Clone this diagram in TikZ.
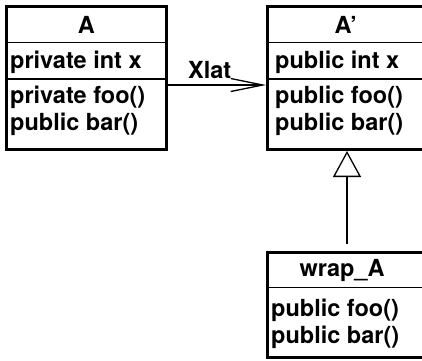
\documentclass[tikz,border=0pt]{standalone}
\usepackage{fontspec}
\setmainfont{TeX Gyre Heros}
\usetikzlibrary{arrows.meta}
\tikzset{
  classbox/.style={draw, line width=3pt, inner sep=0pt, outer sep=0pt, fill=white},
  divider/.style={line width=1.4pt},
  member/.style={anchor=base west, inner sep=0pt, font=\bfseries\fontsize{23.5}{28}\selectfont},
  title/.style={anchor=base, inner sep=0pt, font=\bfseries\fontsize{23.5}{28}\selectfont},
  xlatarrow/.style={line width=1.3pt, -{Straight Barb[length=32pt, width=13pt]}, shorten >=1.5pt},
  inherit/.style={line width=1.3pt, -{Triangle[open, length=26pt, width=28pt]}, shorten <=9pt, shorten >=1.5pt},
}
\begin{document}
\begin{tikzpicture}[x=1pt, y=-1pt]
\useasboundingbox (0,0) rectangle (422,360);
\clip (0,0) rectangle (422,360);

% class A
\node[classbox, minimum width=159.5pt, minimum height=143pt] (A) at (86.25,78) {};
\draw[divider] (A.west |- 0,42.7) -- (A.east |- 0,42.7);
\draw[divider] (A.west |- 0,79) -- (A.east |- 0,79);
\node[title] (Atitle) at (86.25,33) {A};
\node[member] (Ax) at (10,68.5) {private int x};
\node[member] (Afoo) at (10,103.5) {private foo()};
\node[member] (Abar) at (10,130.5) {public bar()};

% class A'
\node[classbox, minimum width=156.5pt, minimum height=143pt] (Ap) at (345.75,78) {};
\draw[divider] (Ap.west |- 0,42.7) -- (Ap.east |- 0,42.7);
\draw[divider] (Ap.west |- 0,79) -- (Ap.east |- 0,79);
\node[title] (Aptitle) at (345.75,33) {A’};
\node[member] (Apx) at (275,68.5) {public int x};
\node[member] (Apfoo) at (275,103.5) {public foo()};
\node[member] (Apbar) at (275,130.5) {public bar()};

% class wrap_A
\node[classbox, minimum width=156.5pt, minimum height=105pt] (W) at (345.75,305) {};
\draw[divider] (W.west |- 0,287.7) -- (W.east |- 0,287.7);
\node[title] (Wtitle) at (342,276.5) {wrap\_A};
\node[member] (Wfoo) at (271,316) {public foo()};
\node[member] (Wbar) at (271,343) {public bar()};

% translation A -> A'
\draw[xlatarrow] (A.east |- 0,85) -- (Ap.west |- 0,85);
\node[member] (xlat) at (188,78) {Xlat};

% wrap_A specialises A'
\draw[inherit] (W.north -| 347,0) -- (Ap.south -| 347,0);
\end{tikzpicture}
\end{document}
